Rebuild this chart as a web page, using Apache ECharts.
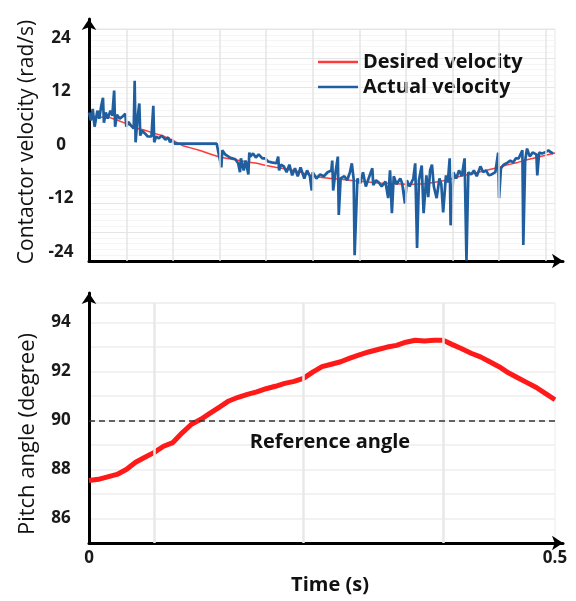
<!DOCTYPE html>
<html>
<head>
<meta charset="utf-8">
<script src="https://cdn.jsdelivr.net/npm/echarts@6/dist/echarts.min.js"></script>
<style>
html,body{margin:0;padding:0;background:#fff;}
#chart{width:576px;height:601px;}
</style>
</head>
<body>
<div id="chart"></div>
<script>
// ---------- DATA ----------
const timeTicks = [0, 0.5];
const velocityTicks = [-24, -12, 0, 12, 24];
const pitchTicks = [86, 88, 90, 92, 94];
const referenceAngle = 90;

const desiredTime = [0,0.01,0.02,0.03,0.04,0.05,0.06,0.07,0.08,0.09,0.10,0.11,0.12,0.13,0.14,0.15,0.16,0.17,0.18,0.19,0.20,0.21,0.22,0.23,0.24,0.25,0.26,0.27,0.28,0.29,0.30,0.31,0.32,0.33,0.34,0.35,0.36,0.37,0.38,0.39,0.40,0.41,0.42,0.43,0.44,0.45,0.46,0.47,0.48,0.49,0.50];
const desiredVelocity = [6.4,6.2,6.3,5.6,4.8,3.8,3.3,2.6,2.0,1.0,-0.1,-0.7,-1.3,-2.0,-2.7,-3.1,-3.4,-3.8,-4.1,-4.6,-5.0,-5.3,-5.7,-6.3,-6.9,-7.3,-7.5,-7.7,-7.9,-8.1,-8.3,-8.5,-8.6,-8.7,-8.8,-8.8,-8.7,-8.4,-8.0,-7.5,-6.9,-6.5,-6.0,-5.5,-5.0,-4.4,-3.9,-3.3,-2.8,-2.3,-1.8];

const actualTime = [0,.002,.004,.006,.009,.011,.013,.015,.016,.018,.020,.023,.025,.027,.028,.030,.033,.036,.039,.040,.042,.045,.048,.049,.050,.052,.054,.055,.057,.060,.063,.067,.069,.070,.072,.075,.078,.082,.085,.087,.089,.092,.108,.124,.137,.139,.142,.143,.146,.151,.157,.160,.162,.163,.166,.168,.171,.172,.173,.176,.179,.182,.186,.189,.192,.196,.201,.203,.204,.206,.209,.212,.215,.218,.221,.224,.227,.231,.234,.237,.239,.240,.244,.248,.252,.256,.260,.261,.262,.264,.267,.268,.270,.274,.277,.280,.282,.284,.285,.288,.291,.294,.297,.300,.304,.305,.308,.311,.314,.318,.321,.323,.325,.327,.330,.334,.336,.339,.341,.344,.348,.350,.352,.354,.357,.359,.362,.364,.366,.368,.370,.373,.376,.378,.380,.383,.385,.387,.388,.391,.394,.397,.400,.403,.405,.407,.410,.413,.416,.420,.423,.426,.429,.432,.436,.438,.439,.440,.442,.445,.448,.452,.455,.458,.461,.465,.466,.468,.470,.473,.476,.480,.481,.483,.486,.489,.493,.496,.498];
const actualVelocity = [7.3,5.5,8.1,4.1,7.7,5.9,8.6,10.6,5.0,7.3,5.9,7.7,6.6,12.2,4.1,6.8,5.9,6.4,7.0,4.1,5.2,4.4,3.7,14.4,0.6,5.9,9.3,2.1,3.2,2.6,1.9,1.9,8.8,0.6,1.9,1.5,2.1,1.2,1.7,0.6,1.2,0.3,0.3,0.3,0.3,-0.1,-5.0,-1.2,-2.1,-2.8,-3.2,-4.1,-6.1,-3.0,-5.7,-3.5,-6.6,-1.7,-2.6,-1.9,-2.8,-2.1,-3.0,-3.0,-3.7,-3.9,-4.1,-2.6,-5.7,-4.4,-4.8,-6.1,-4.4,-6.8,-5.2,-7.0,-5.0,-7.5,-5.7,-7.0,-10.2,-6.1,-7.5,-6.6,-7.0,-6.1,-5.7,-3.5,-10.2,-6.8,-2.6,-15.7,-7.5,-7.0,-7.9,-6.1,-4.1,-7.7,-24.7,-7.5,-8.6,-6.1,-9.3,-7.5,-5.2,-9.0,-7.9,-8.4,-9.3,-8.2,-11.9,-5.7,-15.3,-7.0,-8.8,-7.5,-8.6,-13.1,-7.9,-9.3,-7.5,-4.1,-23.1,-7.9,-4.6,-15.3,-6.8,-11.7,-5.7,-4.4,-9.3,-11.9,-7.5,-8.8,-15.1,-6.8,-8.4,-3.0,-18.0,-6.1,-7.5,-5.7,-7.0,-3.0,-25.9,-6.1,-6.6,-5.7,-7.0,-4.8,-6.1,-5.7,-6.8,-6.6,-6.1,-5.9,-1.7,-11.9,-5.2,-4.4,-4.1,-3.5,-3.9,-3.0,-3.0,-1.2,-22.4,-3.5,-0.8,-2.6,-1.7,-2.1,-6.8,-1.7,-1.9,-1.7,-1.2,-1.7,-1.9];

const pitchTime = [0,0.01,0.02,0.03,0.04,0.05,0.06,0.07,0.08,0.09,0.10,0.11,0.12,0.13,0.14,0.15,0.16,0.17,0.18,0.19,0.20,0.21,0.22,0.23,0.24,0.25,0.26,0.27,0.28,0.29,0.30,0.31,0.32,0.33,0.34,0.35,0.36,0.37,0.38,0.39,0.40,0.41,0.42,0.43,0.44,0.45,0.46,0.47,0.48,0.49,0.50];
const pitchAngle = [87.55,87.6,87.7,87.8,88.0,88.3,88.5,88.7,88.95,89.1,89.5,89.85,90.05,90.3,90.55,90.8,90.95,91.07,91.17,91.3,91.4,91.52,91.6,91.72,91.98,92.2,92.3,92.4,92.55,92.68,92.8,92.9,93.0,93.07,93.2,93.28,93.25,93.28,93.28,93.1,92.93,92.75,92.6,92.4,92.2,91.95,91.75,91.55,91.35,91.1,90.85];

// ---------- LAYOUT / STYLE ----------
const FONT = 'Open Sans';
const velGridLinesX = [0.0418,0.0923,0.1416,0.1920,0.2403,0.2907,0.3422,0.3927,0.4431,0.4946];
const pitchGridLinesX = [0.0719,0.2253,0.3777];

const zip = (a, b) => a.map((v, i) => [v, b[i]]);

const hiddenAxis = {
  axisLine: {show: false}, axisTick: {show: false},
  axisLabel: {show: false}, splitLine: {show: false}
};
const arrowAxis = (gridIndex) => ({
  type: 'value', gridIndex, min: 0, max: 1,
  axisLine: {show: true, onZero: false, symbol: ['none', 'arrow'], symbolSize: [11, 11],
             lineStyle: {color: '#000', width: 3}},
  axisTick: {show: false}, axisLabel: {show: false}, splitLine: {show: false}
});
const tickLabel = {fontFamily: FONT, fontSize: 17, fontWeight: 'bold', color: '#1a1a1a'};
const nameStyle = {fontFamily: FONT, fontSize: 21, color: '#111'};

const chart = echarts.init(document.getElementById('chart'), null, {renderer: 'canvas'});
chart.setOption({
  animation: false,
  backgroundColor: '#fff',
  grid: [
    {left: 89, right: 21, top: 29, bottom: 340, show: true, borderColor: '#e6e6e6', borderWidth: 1},
    {left: 89, right: 21, top: 303, bottom: 58, show: true, borderColor: '#ececec', borderWidth: 1},
    {left: 89, right: 13, top: 19, bottom: 340},
    {left: 89, right: 13, top: 293, bottom: 58}
  ],
  legend: {
    data: ['Desired velocity', 'Actual velocity'],
    orient: 'vertical', left: 313, top: 47, itemWidth: 40, itemHeight: 2.5, itemGap: 5,
    icon: 'rect',
    textStyle: {fontFamily: FONT, fontSize: 20, fontWeight: 'bold', color: '#111'}
  },
  xAxis: [
    Object.assign({type: 'value', gridIndex: 0, min: 0, max: 0.5}, hiddenAxis),
    {type: 'value', gridIndex: 1, min: 0, max: 0.5,
     axisLine: {show: false, onZero: false}, axisTick: {show: false}, splitLine: {show: false},
     axisLabel: Object.assign({customValues: timeTicks, margin: 7, showMinLabel: true, showMaxLabel: true}, tickLabel),
     name: 'Time (s)', nameLocation: 'middle', nameGap: 32,
     nameTextStyle: {fontFamily: FONT, fontSize: 20, fontWeight: 'bold', color: '#111', padding: [0, 0, 0, 16]}},
    arrowAxis(2),
    arrowAxis(3)
  ],
  yAxis: [
    {type: 'value', gridIndex: 0, min: -26, max: 26,
     axisLine: {show: false, onZero: false}, axisTick: {show: false}, splitLine: {show: false},
     axisLabel: Object.assign({customValues: velocityTicks, margin: 28, align: 'center'}, tickLabel),
     name: 'Contactor velocity (rad/s)', nameLocation: 'middle', nameGap: 50, nameRotate: 90,
     nameTextStyle: Object.assign({padding: [0, 0, 0, 6]}, nameStyle)},
    {type: 'value', gridIndex: 0, min: -26, max: 26, interval: 6.5,
     axisLine: {show: false}, axisTick: {show: false}, axisLabel: {show: false},
     splitLine: {show: true, lineStyle: {color: '#e6e6e6', width: 1.2}},
     minorTick: {show: false, splitNumber: 5},
     minorSplitLine: {show: true, lineStyle: {color: '#f5f5f5', width: 1}}},
    {type: 'value', gridIndex: 1, min: 85, max: 94.8,
     axisLine: {show: false, onZero: false}, axisTick: {show: false}, splitLine: {show: false},
     axisLabel: Object.assign({customValues: pitchTicks, margin: 28, align: 'center'}, tickLabel),
     name: 'Pitch angle (degree)', nameLocation: 'middle', nameGap: 50, nameRotate: 90,
     nameTextStyle: Object.assign({padding: [0, 22, 0, 0]}, nameStyle, {fontSize: 22})},
    {type: 'value', gridIndex: 1, min: 85, max: 94.8, interval: 1,
     axisLine: {show: false}, axisTick: {show: false}, axisLabel: {show: false},
     splitLine: {show: true, lineStyle: {color: '#eeeeee', width: 1.5}}},
    arrowAxis(2),
    arrowAxis(3)
  ],
  series: [
    {type: 'line', name: 'vgrid', xAxisIndex: 0, yAxisIndex: 1, data: [], z: 1, silent: true,
     markLine: {silent: true, symbol: 'none', label: {show: false},
                lineStyle: {color: '#e4e4e4', width: 1.5, type: 'solid'},
                data: velGridLinesX.map(x => ({xAxis: x}))}},
    {type: 'line', name: 'pgrid', xAxisIndex: 1, yAxisIndex: 3, data: [], z: 1, silent: true,
     markLine: {silent: true, symbol: 'none', label: {show: false},
                lineStyle: {color: '#e8e8e8', width: 2.5, type: 'solid'},
                data: pitchGridLinesX.map(x => ({xAxis: x}))}},
    {type: 'line', name: 'ref', xAxisIndex: 1, yAxisIndex: 2, data: [], z: 2, silent: true,
     markLine: {silent: true, symbol: 'none',
                lineStyle: {color: '#333', width: 1.5, type: [6, 4]},
                label: {show: true, position: 'insideMiddleBottom', distance: 12, formatter: 'Reference angle',
                        fontFamily: FONT, fontSize: 20, fontWeight: 'bold', color: '#111', padding: [0, 0, 0, 16]},
                data: [{yAxis: referenceAngle}]}},
    {type: 'line', name: 'Desired velocity', xAxisIndex: 0, yAxisIndex: 0, symbol: 'none', z: 3,
     data: zip(desiredTime, desiredVelocity),
     lineStyle: {color: '#ff3a3a', width: 1.5}, itemStyle: {color: '#ff3a3a'}},
    {type: 'line', name: 'Actual velocity', xAxisIndex: 0, yAxisIndex: 0, symbol: 'none', z: 4,
     data: zip(actualTime, actualVelocity),
     lineStyle: {color: '#1f5fa0', width: 2.7}, itemStyle: {color: '#1f5fa0'}},
    {type: 'line', name: 'Pitch angle', xAxisIndex: 1, yAxisIndex: 2, symbol: 'none', z: 4,
     data: zip(pitchTime, pitchAngle),
     lineStyle: {color: '#ff1a1a', width: 5}, itemStyle: {color: '#ff1a1a'}}
  ]
});
</script>
</body>
</html>
